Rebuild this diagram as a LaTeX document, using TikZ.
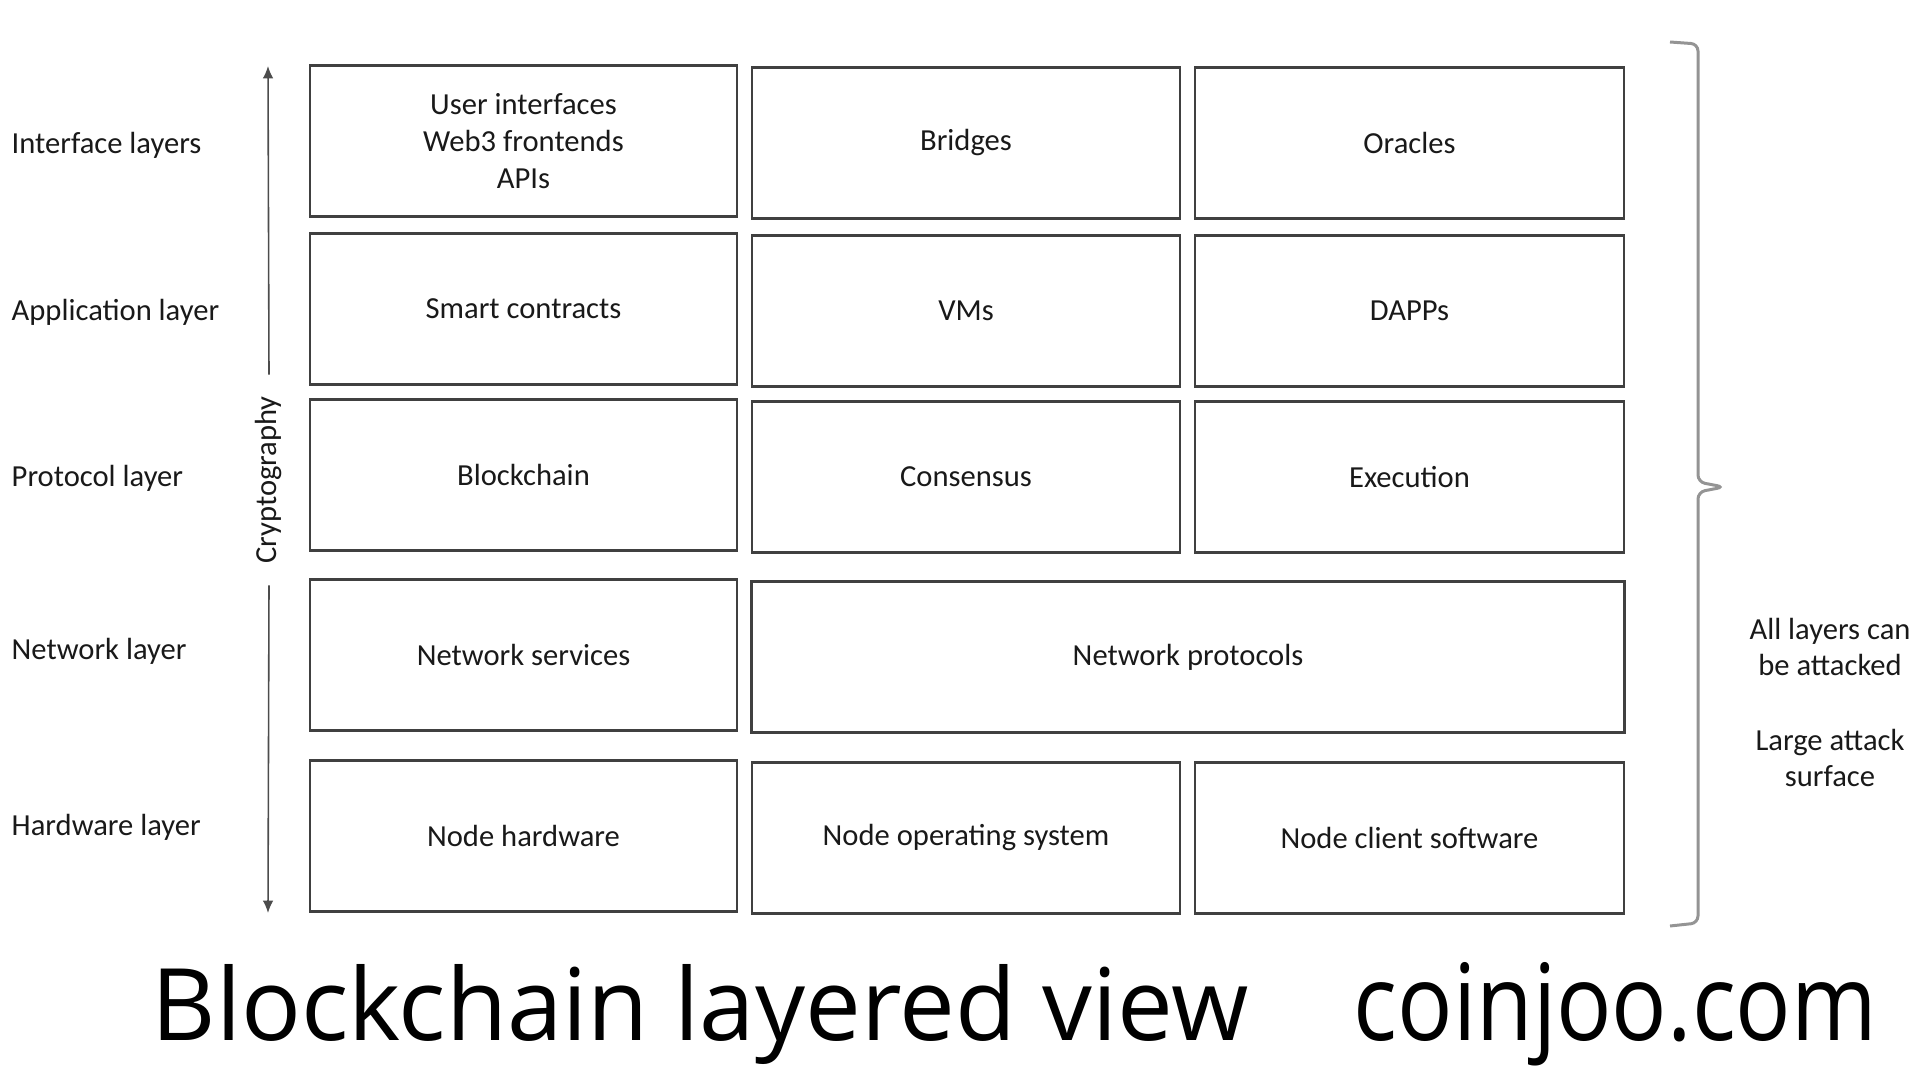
\documentclass[tikz,border=0pt]{standalone}
\usepackage{fontspec}
\setmainfont{Carlito}
\newfontfamily\titlefont{Open Sans}
\usetikzlibrary{arrows.meta,
                positioning
                }

\tikzset{
    layerbox/.style={draw=black!75, line width=0.75pt, minimum height=1.51cm, inner sep=0pt,
                     align=center, text=black!90, font=\fontsize{8.7}{10.5}\selectfont},
    layerlabel/.style={anchor=west, inner sep=0pt, text=black!90, font=\fontsize{8.7}{10.5}\selectfont},
    sidetext/.style={inner sep=0pt, align=center, text=black!90, font=\fontsize{8.7}{10.5}\selectfont},
    arrowline/.style={draw=black!70, line width=0.45pt, -{Latex[length=3.5pt,width=3pt]}},
    braceline/.style={draw=black!42, line width=0.85pt, rounded corners=0.07cm},
    bigtext/.style={anchor=base west, inner sep=0pt}
}

\begin{document}
\begin{tikzpicture}[x=0.01cm, y=-0.01cm]
            \useasboundingbox (0,0) rectangle (1920,1079);

            %layer names
            \foreach \i/\y/\txt in {1/145/Interface layers, 2/312/Application layer, 3/478/Protocol layer,
                                    4/651/Network layer, 5/827/Hardware layer}
                \node[layerlabel] (lbl\i) at (11,\y) {\txt};

            %cryptography arrows
            \node[rotate=90, inner xsep=0.21cm, inner ysep=0pt, text=black!90,
                  font=\fontsize{8.7}{10.5}\selectfont] (crypt) at (269,480) {Cryptography};
            \coordinate (arrtop) at (268,66);
            \coordinate (arrbot) at (268,913);
            \draw[arrowline] (crypt.east) -- (arrtop);
            \draw[arrowline] (crypt.west) -- (arrbot);

            %interface layers
            \node[layerbox, minimum width=4.27cm] (ui) at (523.5,141) {User interfaces\\Web3 frontends\\APIs};
            \node[layerbox, minimum width=4.28cm] (bridges) at (966,143) {Bridges};
            \node[layerbox, minimum width=4.29cm] (oracles) at (1409.5,143) {Oracles};

            %application layer
            \node[layerbox, minimum width=4.27cm] (contracts) at (523.5,309) {Smart contracts};
            \node[layerbox, minimum width=4.28cm] (vms) at (966,311) {VMs};
            \node[layerbox, minimum width=4.29cm] (dapps) at (1409.5,311) {DAPPs};

            %protocol layer
            \node[layerbox, minimum width=4.27cm] (chain) at (523.5,475) {Blockchain};
            \node[layerbox, minimum width=4.28cm] (consensus) at (966,477) {Consensus};
            \node[layerbox, minimum width=4.29cm] (execution) at (1409.5,477) {Execution};

            %network layer
            \node[layerbox, minimum width=4.27cm] (services) at (523.5,655) {Network services};
            \node[layerbox, minimum width=8.72cm] (protocols) at (1188,657) {Network protocols};

            %hardware layer
            \node[layerbox, minimum width=4.27cm] (hardware) at (523.5,836) {Node hardware};
            \node[layerbox, minimum width=4.28cm] (os) at (966,838) {Node operating system};
            \node[layerbox, minimum width=4.29cm] (client) at (1409.5,838) {Node client software};

            %brace and remarks
            \coordinate (bracetop) at (1670,42);
            \coordinate (bracetip) at (1724,487);
            \coordinate (bracebot) at (1670,926);
            \draw[braceline] (bracetop) -- (1698,44) -- (1698,482) -- (bracetip)
                             -- (1698,492) -- (1698,923) -- (bracebot);
            \node[sidetext] (attacked) at (1830,647) {All layers can\\be attacked};
            \node[sidetext] (surface) at (1830,758) {Large attack\\surface};

            %caption
            \node[bigtext] (title) at (151,1040) {\resizebox{10.96cm}{0.76cm}{\titlefont Blockchain layered view}};
            \node[bigtext] (site) at (1353,1040) {\resizebox{5.23cm}{0.78cm}{\titlefont coinjoo.com}};
\end{tikzpicture}
\end{document}
